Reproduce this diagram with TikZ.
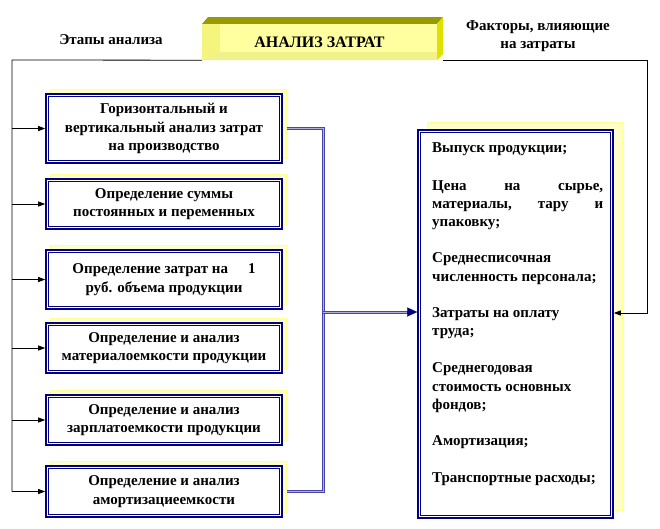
\documentclass[tikz,border=0pt]{standalone}
\usepackage{fontspec}
\setmainfont{Liberation Serif}
\usetikzlibrary{arrows.meta,shadows}
\definecolor{navyb}{RGB}{0,0,128}
\definecolor{shfill}{RGB}{255,255,204}
\definecolor{shdraw}{RGB}{255,255,150}
\definecolor{conn}{RGB}{70,70,170}
\definecolor{connin}{RGB}{175,175,220}
\definecolor{ttop}{RGB}{153,153,0}
\definecolor{tright}{RGB}{225,225,0}
\definecolor{tfront}{RGB}{255,255,160}
\definecolor{tleft}{RGB}{245,245,125}
\definecolor{tbot}{RGB}{240,240,140}
\tikzset{
  txt/.style={font=\bfseries\fontsize{15}{18.5}\selectfont},
  stagebox/.style={draw=navyb, line width=1.6pt, fill=white, minimum width=236pt,
    inner sep=0pt, align=center, txt,
    drop shadow={shadow xshift=4pt, shadow yshift=5pt, fill=shfill, draw=shdraw, line width=0.8pt, opacity=1}},
  factbox/.style={draw=navyb, line width=1.6pt, fill=white, minimum width=195pt, minimum height=388pt,
    inner sep=0pt,
    drop shadow={shadow xshift=9pt, shadow yshift=8pt, fill=shfill, draw=shdraw, line width=0.8pt, opacity=1}},
  innerframe/.style={draw=navyb, line width=0.8pt},
  ftxt/.style={txt, anchor=base west, inner sep=0pt},
  thin/.style={draw=black, line width=0.8pt},
  arr/.style={thin, -{Triangle[length=7pt,width=5pt]}},
  dline/.style={draw=conn, double=connin, double distance=1pt, line width=1pt, line join=miter},
}
\begin{document}
\begin{tikzpicture}[x=1pt,y=-1pt]
\useasboundingbox (0,0) rectangle (660,528);
% title box (3D)
\fill[ttop] (202,24) -- (208,17) -- (443,17) -- (437,24) -- cycle;
\fill[tright] (437,24) -- (443,17) -- (443,54) -- (437,60) -- cycle;
\fill[tfront] (202,24) rectangle (437,60);
\fill[tleft] (202,24) -- (220,24) -- (220,52) -- (202,60) -- cycle;
\fill[tbot] (202,60) -- (220,52) -- (437,52) -- (437,60) -- cycle;
\node[txt, font=\bfseries\fontsize{16}{18}\selectfont, minimum width=235pt, minimum height=36pt, inner sep=0pt] (title) at (319.5,42) {АНАЛИЗ ЗАТРАТ};

\node[txt] (lab1) at (111,40) {Этапы анализа};
\node[txt, align=center] (lab2) at (538,36) {Факторы, влияющие\\на затраты};

% stage boxes
\node[stagebox, minimum height=69pt] (b1) at (164,128.5) {Горизонтальный и\\вертикальный анализ затрат\\на производство};
\node[stagebox, minimum height=50pt] (b2) at (164,204) {Определение суммы\\постоянных и переменных};
\node[stagebox, minimum height=59pt] (b3) at (164,279.5) {Определение затрат на\hspace{20pt}1\\руб. объема продукции};
\node[stagebox, minimum height=50pt] (b4) at (164,348) {Определение и анализ\\материалоемкости продукции};
\node[stagebox, minimum height=50pt] (b5) at (164,420) {Определение и анализ\\зарплатоемкости продукции};
\node[stagebox, minimum height=51pt] (b6) at (164,491.5) {Определение и анализ\\амортизациеемкости};

% factors box
\node[factbox] (fac) at (515.5,324) {};

\foreach \b in {b1,b2,b3,b4,b5,b6,fac}
  \draw[innerframe] ([shift={(3pt,-3pt)}]\b.north west) rectangle ([shift={(-3pt,3pt)}]\b.south east);

\node[ftxt] (f1) at (432,152) {Выпуск продукции;};
\node[ftxt] (f2) at (432,190) {\makebox[171pt][s]{Цена\hfill на\hfill сырье,}};
\node[ftxt] (f3) at (432,208) {\makebox[171pt][s]{материалы,\hfill тару\hfill и}};
\node[ftxt] (f4) at (432,226) {упаковку;};
\node[ftxt] (f5) at (432,262) {Среднесписочная};
\node[ftxt] (f6) at (432,281) {численность персонала;};
\node[ftxt] (f7) at (432,317) {Затраты на оплату};
\node[ftxt] (f8) at (432,335) {труда;};
\node[ftxt] (f9) at (432,372) {Среднегодовая};
\node[ftxt] (f10) at (432,391) {стоимость основных};
\node[ftxt] (f11) at (432,409) {фондов;};
\node[ftxt] (f12) at (432,445) {Амортизация;};
\node[ftxt] (f13) at (432,482) {Транспортные расходы;};

% frame connectors
\coordinate (L) at (12,60);
\coordinate (R) at (647,60);
\draw[thin] (title.south west) -- (L) -- (L |- b6.west);
\foreach \b in {b1,b2,b3,b4,b5,b6}
  \draw[arr] (L |- \b.west) -- (\b.west);
\coordinate (RS) at (443,60);
\coordinate (RA) at (647,313);
\draw[arr] (RS) -- (R) -- (RA) -- (fac.east |- RA);

% double connectors
\coordinate (V) at (323,60);
\coordinate (J) at (323,312);
\draw[dline] ([xshift=4pt]b1.east) -- (V |- b1.east) -- (V |- b6.east) -- ([xshift=4pt]b6.east);
\draw[dline, shorten >=9pt] (J) -- (fac.west |- J);
\draw[navyb, line width=0.1pt, -{Triangle[length=10pt,width=9pt]}] ([xshift=-10pt]fac.west |- J) -- (fac.west |- J);
\end{tikzpicture}
\end{document}
